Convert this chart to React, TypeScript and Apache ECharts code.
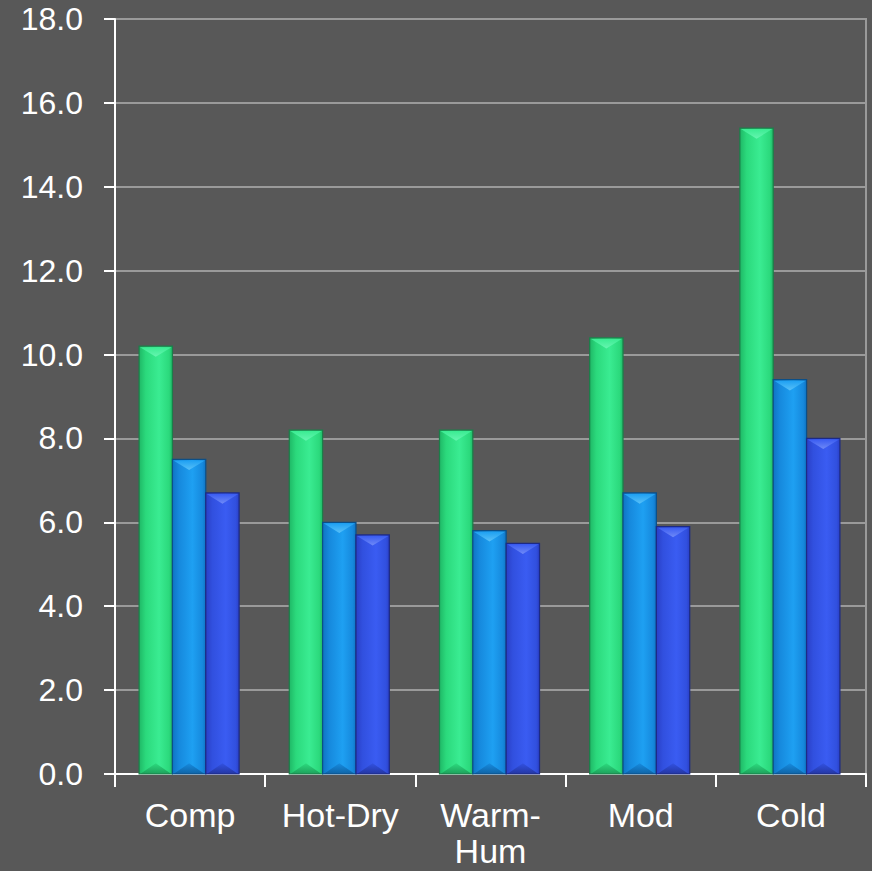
import React, { useEffect, useRef } from "react";
import * as echarts from "echarts";

const categories = ["Comp", "Hot-Dry", "Warm-\nHum", "Mod", "Cold"];
const seriesA = [10.2, 8.2, 8.2, 10.4, 15.4];
const seriesB = [7.5, 6.0, 5.8, 6.7, 9.4];
const seriesC = [6.7, 5.7, 5.5, 5.9, 8.0];

const palettes = [
  { dark: "#1fb866", mid: "#2bd97c", light: "#3aec92", top: "#66f5b0", bottom: "#1b9a57", stroke: "#1b7e49" },
  { dark: "#0f74c4", mid: "#1689dd", light: "#1ea0f2", top: "#58c0f8", bottom: "#0d5e9f", stroke: "#0b4f88" },
  { dark: "#2a3fc6", mid: "#3150df", light: "#3a5cf2", top: "#6f8af7", bottom: "#22339c", stroke: "#1c2a85" },
];

const FONT = "Liberation Sans, Arial, sans-serif";

function makeRender(idx: number) {
  const p = palettes[idx];
  return (params: any, api: any) => {
    const cat = api.value(0);
    const val = api.value(1);
    const top = api.coord([cat, val]);
    const base = api.coord([cat, 0]);
    const band = api.size([1, 0])[0];
    const w = band * 0.222;
    const x = top[0] + (idx - 1) * w - w / 2 - 1;
    const y = top[1];
    const h = base[1] - top[1];
    const d = Math.min(w * 0.32, h / 2);
    const grad = new echarts.graphic.LinearGradient(0, 0, 1, 0, [
      { offset: 0, color: p.dark },
      { offset: 0.2, color: p.mid },
      { offset: 0.6, color: p.light },
      { offset: 0.9, color: p.mid },
      { offset: 1, color: p.dark },
    ]);
    return {
      type: "group",
      children: [
        { type: "rect", shape: { x, y, width: w, height: h }, style: { fill: grad } },
        {
          type: "polygon",
          shape: { points: [[x + 1, y + 1], [x + w - 1, y + 1], [x + w / 2, y + d]] },
          style: {
            fill: new echarts.graphic.LinearGradient(0, 0, 0, 1, [
              { offset: 0, color: p.light },
              { offset: 1, color: p.top },
            ]),
          },
        },
        {
          type: "polygon",
          shape: { points: [[x + 1, y + h], [x + w - 1, y + h], [x + w / 2, y + h - d]] },
          style: {
            fill: new echarts.graphic.LinearGradient(0, 0, 0, 1, [
              { offset: 0, color: p.mid },
              { offset: 1, color: p.bottom },
            ]),
            opacity: 0.9,
          },
        },
        {
          type: "rect",
          shape: { x, y, width: w, height: h },
          style: { fill: "none", stroke: p.stroke, lineWidth: 1.2 },
        },
      ],
    };
  };
}

export default function App() {
  const ref = useRef<HTMLDivElement>(null);
  useEffect(() => {
    if (!ref.current) return;
    const chart = echarts.init(ref.current, null, { renderer: "svg" });
    const all = [seriesA, seriesB, seriesC];
    chart.setOption({
      animation: false,
      backgroundColor: "#585858",
      grid: {
        left: 115,
        right: 6,
        top: 19,
        bottom: 97,
        show: true,
        borderColor: "#9a9a9a",
        borderWidth: 2,
        containLabel: false,
        outerBoundsMode: "none",
      },
      xAxis: {
        type: "category",
        data: categories,
        axisLine: { lineStyle: { color: "#ffffff", width: 2 } },
        axisTick: { show: true, length: 13, alignWithLabel: false, lineStyle: { color: "#ffffff", width: 2 } },
        axisLabel: {
          color: "#ffffff",
          fontFamily: FONT,
          fontSize: 34,
          lineHeight: 36,
          margin: 23,
          interval: 0,
        },
      },
      yAxis: {
        type: "value",
        min: 0,
        max: 18,
        interval: 2,
        axisLine: { show: true, lineStyle: { color: "#ffffff", width: 2 } },
        axisTick: { show: true, length: 11, lineStyle: { color: "#ffffff", width: 2 } },
        splitLine: { lineStyle: { color: "#9a9a9a", width: 2 } },
        axisLabel: {
          color: "#ffffff",
          fontFamily: FONT,
          fontSize: 32,
          margin: 32,
          formatter: (v: number) => v.toFixed(1),
        },
      },
      series: all.map((arr, i) => ({
        type: "custom",
        renderItem: makeRender(i),
        encode: { x: 0, y: 1 },
        data: arr.map((v, c) => [c, v]),
      })),
    });
    return () => chart.dispose();
  }, []);
  return <div ref={ref} style={{ width: 872, height: 871, position: "absolute", left: 0, top: 0 }} />;
}
